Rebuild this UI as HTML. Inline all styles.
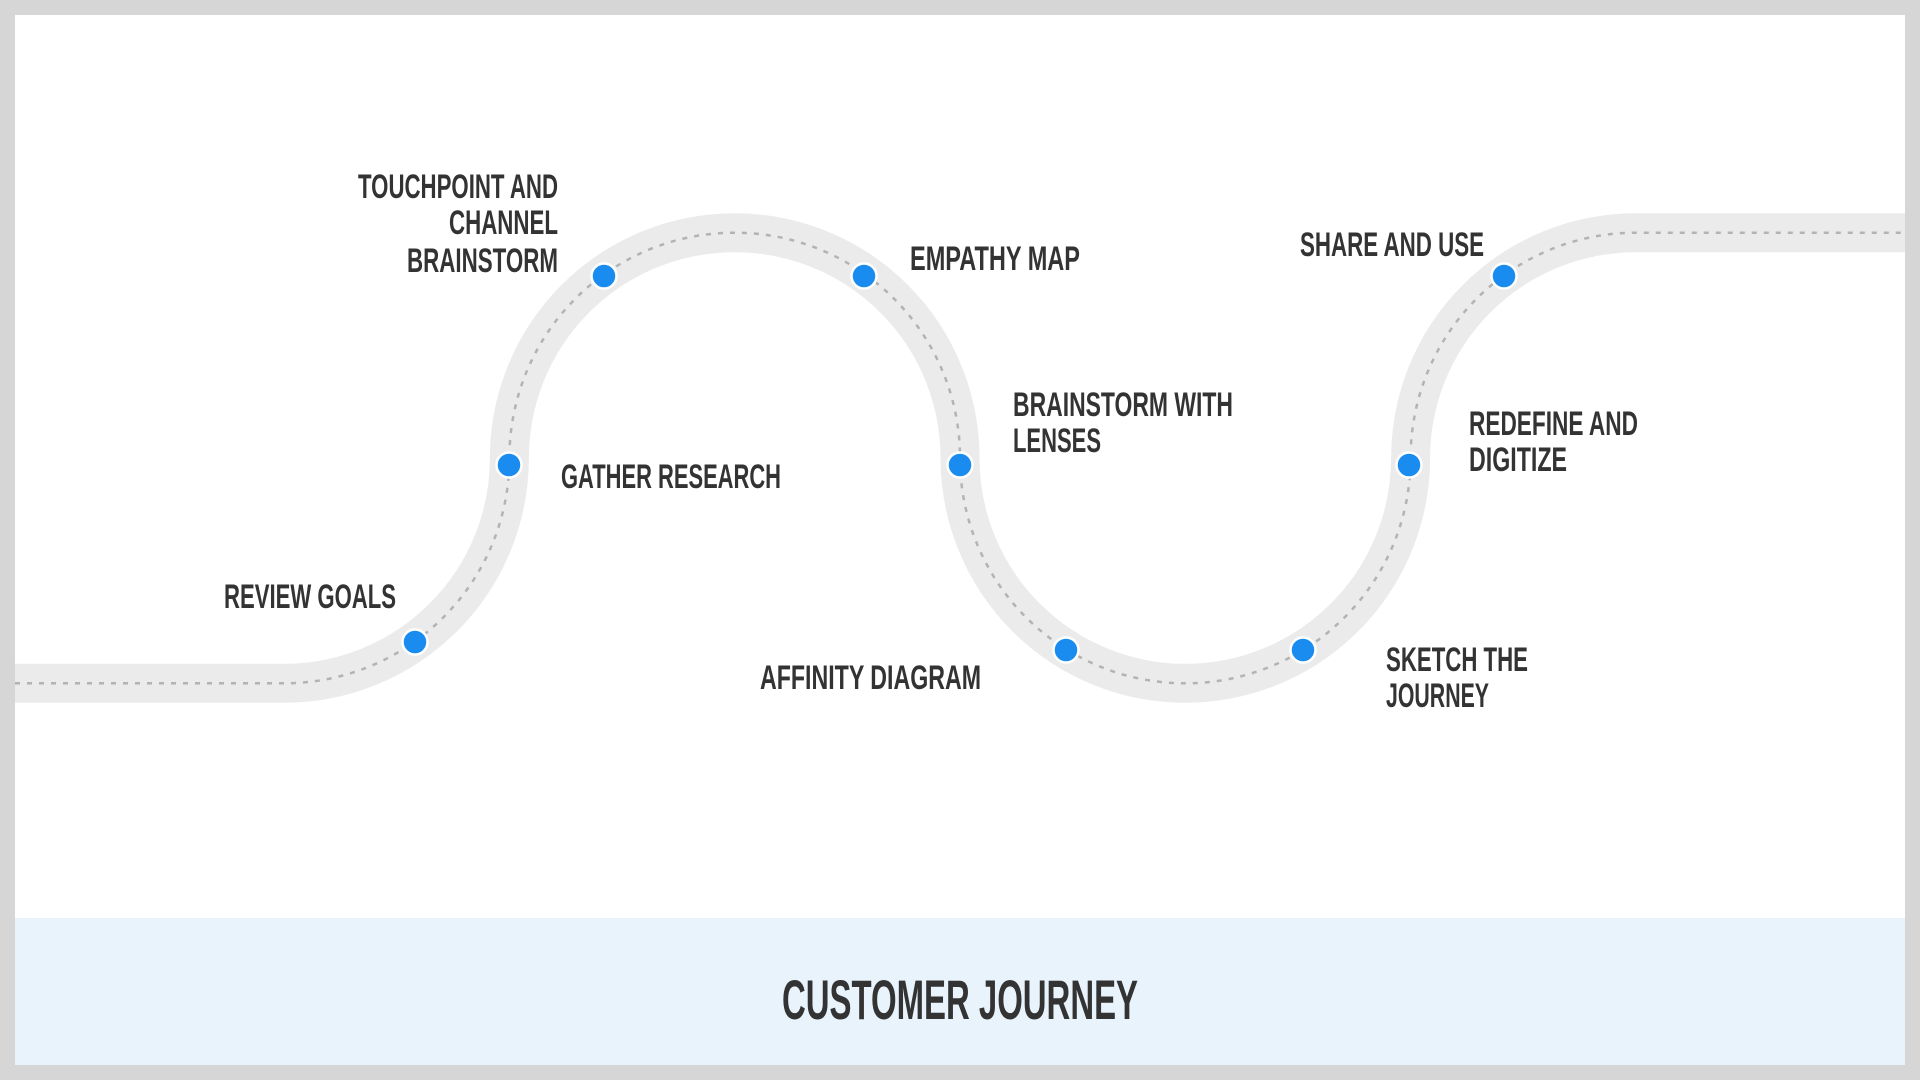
<!DOCTYPE html>
<html><head><meta charset="utf-8"><style>
html,body{margin:0;padding:0;width:1920px;height:1080px;overflow:hidden;background:#d6d6d6}
svg{display:block}
text{font-family:"Liberation Sans Narrow","Liberation Sans",sans-serif;font-weight:bold;fill:#333}
</style></head><body>
<svg width="1920" height="1080" viewBox="0 0 1920 1080">
<rect x="0" y="0" width="1920" height="1080" fill="#d6d6d6"/>
<rect x="15" y="15" width="1890" height="1050" fill="#ffffff"/>
<rect x="15" y="918" width="1890" height="147" fill="#e8f3fc"/>
<path d="M15,683.3 H284.1 A225.3,225.3 0 0 0 509.4,458 A225.3,225.3 0 0 1 960,458 A225.3,225.3 0 0 0 1410.6,458 A225.3,225.3 0 0 1 1635.9,232.7 H1905" fill="none" stroke="#ebebeb" stroke-width="39"/>
<path d="M15,683.3 H284.1 A225.3,225.3 0 0 0 509.4,458 A225.3,225.3 0 0 1 960,458 A225.3,225.3 0 0 0 1410.6,458 A225.3,225.3 0 0 1 1635.9,232.7 H1905" fill="none" stroke="#b3b3b3" stroke-width="2.5" stroke-dasharray="5 7"/>
<g fill="#1a8cf0" stroke="#ffffff" stroke-width="2.5">
<circle cx="415" cy="642" r="12.5"/>
<circle cx="509" cy="465" r="12.5"/>
<circle cx="604" cy="276" r="12.5"/>
<circle cx="864" cy="276" r="12.5"/>
<circle cx="960" cy="465" r="12.5"/>
<circle cx="1066" cy="650" r="12.5"/>
<circle cx="1303" cy="650" r="12.5"/>
<circle cx="1409" cy="465" r="12.5"/>
<circle cx="1504" cy="276" r="12.5"/>
</g>
<g font-size="34">
<text x="358" y="198" textLength="200" lengthAdjust="spacingAndGlyphs">TOUCHPOINT AND</text>
<text x="449" y="234" textLength="109" lengthAdjust="spacingAndGlyphs">CHANNEL</text>
<text x="407" y="272" textLength="151" lengthAdjust="spacingAndGlyphs">BRAINSTORM</text>
<text x="224" y="608" textLength="172" lengthAdjust="spacingAndGlyphs">REVIEW GOALS</text>
<text x="561" y="488" textLength="220" lengthAdjust="spacingAndGlyphs">GATHER RESEARCH</text>
<text x="910" y="270" textLength="170" lengthAdjust="spacingAndGlyphs">EMPATHY MAP</text>
<text x="1013" y="416" textLength="220" lengthAdjust="spacingAndGlyphs">BRAINSTORM WITH</text>
<text x="1013" y="452" textLength="88" lengthAdjust="spacingAndGlyphs">LENSES</text>
<text x="760" y="689" textLength="221" lengthAdjust="spacingAndGlyphs">AFFINITY DIAGRAM</text>
<text x="1386" y="671" textLength="142" lengthAdjust="spacingAndGlyphs">SKETCH THE</text>
<text x="1386" y="707" textLength="103" lengthAdjust="spacingAndGlyphs">JOURNEY</text>
<text x="1300" y="256" textLength="184" lengthAdjust="spacingAndGlyphs">SHARE AND USE</text>
<text x="1469" y="435" textLength="169" lengthAdjust="spacingAndGlyphs">REDEFINE AND</text>
<text x="1469" y="471" textLength="98" lengthAdjust="spacingAndGlyphs">DIGITIZE</text>
</g>
<text x="782" y="1019" font-size="56" textLength="356" lengthAdjust="spacingAndGlyphs">CUSTOMER JOURNEY</text>
</svg>
</body></html>
